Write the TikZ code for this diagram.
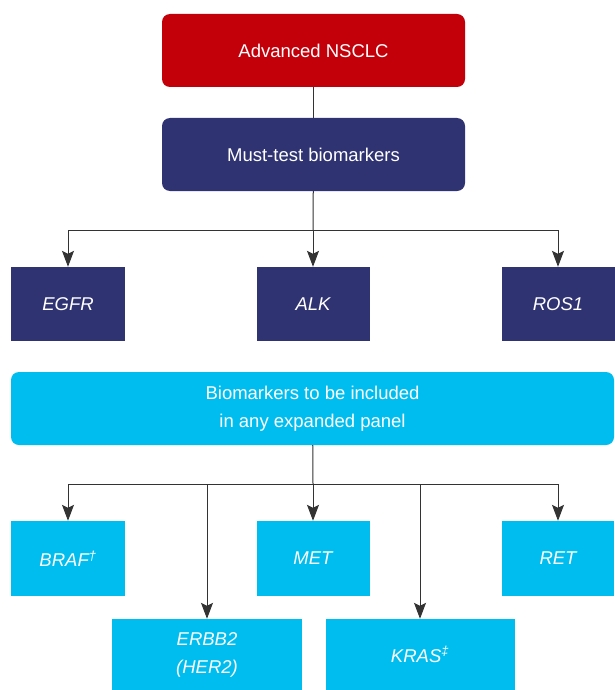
\documentclass[tikz,border=0pt]{standalone}
\usepackage{fontspec}
\setmainfont{Liberation Sans}
\usepackage{tikz}
\usetikzlibrary{arrows.meta,positioning}
\definecolor{nsclcred}{HTML}{C3000A}
\definecolor{navybox}{HTML}{303372}
\definecolor{skybox}{HTML}{00BDF0}
\definecolor{linegray}{HTML}{333333}
\tikzset{
	box/.style={rectangle, text=white, inner sep=0pt, align=center,
		font=\fontsize{18.5}{28}\selectfont},
	gene/.style={box, font=\fontsize{18.5}{28}\selectfont\itshape},
	conn/.style={draw=linegray, line width=1pt},
	arr/.style={conn, -{Stealth[length=16pt,width=12pt,inset=3pt]}}
}

\begin{document}
\begin{tikzpicture}[x=1pt,y=-1pt]
	\useasboundingbox (0,0) rectangle (614,690);
	%%%%%%%%%% caixas de cima %%%%%%%%%%%
	\node[box, fill=nsclcred, rounded corners=8pt, minimum width=303pt, minimum height=73pt]
	(nsclc) at (313.5,50.5) {Advanced NSCLC};
	\node[box, fill=navybox, rounded corners=8pt, minimum width=303pt, minimum height=73pt]
	(must) at (313.5,154.5) {Must-test biomarkers};
	
	%%%%%%%%%% must-test %%%%%%%%%%%%%
	\node[gene, fill=navybox, minimum width=114pt, minimum height=74pt] (egfr) at (68,304) {EGFR};
	\node[gene, fill=navybox, minimum width=113pt, minimum height=74pt] (alk) at (313,304) {ALK};
	\node[gene, fill=navybox, minimum width=113pt, minimum height=74pt] (ros) at (558,304) {ROS1};
	
	%%%%%%%%%% painel expandido %%%%%%%%%%%
	\node[box, fill=skybox, rounded corners=8pt, minimum width=603pt, minimum height=73pt]
	(panel) at (312.5,408.5) {Biomarkers to be included\\in any expanded panel};
	
	\node[gene, fill=skybox, minimum width=114pt, minimum height=75pt] (braf) at (68,558.5) {BRAF\textsuperscript{†}};
	\node[gene, fill=skybox, minimum width=113pt, minimum height=75pt] (met) at (313,558.5) {MET};
	\node[gene, fill=skybox, minimum width=112pt, minimum height=75pt] (ret) at (558,558.5) {RET};
	\node[gene, fill=skybox, minimum width=190pt, minimum height=71pt] (erbb) at (207,654.5) {ERBB2\\(HER2)};
	\node[gene, fill=skybox, minimum width=189pt, minimum height=71pt] (kras) at (420,654.5) {KRAS\textsuperscript{‡}};
	
	%%%%%%%%%% ligações %%%%%%%%%%%%%
	\coordinate (split1) at (313,230);
	\coordinate (split2) at (313,484);
	\draw[conn] (nsclc) -- (must);
	\draw[conn] (must) -- (split1);
	\draw[arr] (split1) -| (egfr);
	\draw[arr] (split1) -- (alk);
	\draw[arr] (split1) -| (ros);
	\draw[conn] (panel) -- (split2);
	\draw[arr] (split2) -| (braf);
	\draw[arr] (split2) -| (erbb);
	\draw[arr] (split2) -- (met);
	\draw[arr] (split2) -| (kras);
	\draw[arr] (split2) -| (ret);
\end{tikzpicture}
\end{document}
